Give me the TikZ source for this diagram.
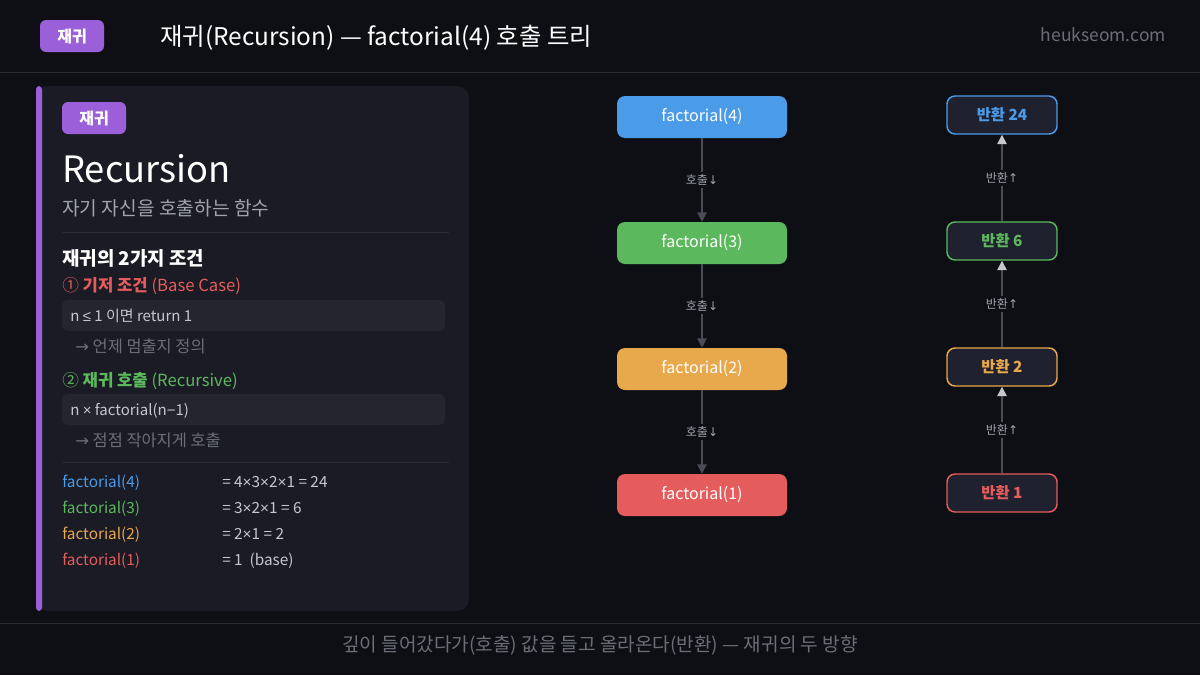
\documentclass[tikz,border=0pt]{standalone}
\usepackage{fontspec}
\setmainfont{Noto Sans CJK KR}
\newfontfamily\symfont{Liberation Sans}
\newfontfamily\arrowfont{DejaVu Sans}
\usetikzlibrary{arrows.meta}
\definecolor{BgDark}{HTML}{0E0F14}
\definecolor{RuleGray}{HTML}{2A2B33}
\definecolor{PanelBg}{HTML}{1A1B24}
\definecolor{CodeBg}{HTML}{24252F}
\definecolor{Badge}{HTML}{9B5FDA}
\definecolor{FBlue}{HTML}{4A9BE8}
\definecolor{FGreen}{HTML}{5CB85C}
\definecolor{FOrange}{HTML}{E8A84C}
\definecolor{FRed}{HTML}{E55C5C}
\definecolor{RetBg}{HTML}{20212F}
\definecolor{SubGray}{HTML}{A0A3AD}
\definecolor{DimGray}{HTML}{6B6E78}
\definecolor{CodeText}{HTML}{C5C7CF}
\definecolor{LinkGray}{HTML}{4A4C57}
\newcommand{\fpx}[1]{\fontsize{#1}{#1}\selectfont}
\newcommand{\sy}[1]{{\symfont #1}}
\newcommand{\ar}[1]{{\arrowfont #1}}
\tikzset{
  badge/.style={fill=Badge, rounded corners=4.5pt, text=white, font=\fpx{12}\bfseries,
    minimum width=48pt, minimum height=24pt, inner sep=0pt},
  txt/.style={anchor=base west, inner sep=0pt},
  callnode/.style={fill=#1, rounded corners=6pt, text=white, font=\fpx{12},
    minimum width=127.5pt, minimum height=31.5pt, inner sep=0pt},
  retnode/.style={fill=RetBg, draw=#1, line width=1.1pt, rounded corners=6pt, text=#1,
    font=\fpx{11.5}\bfseries, minimum width=82.5pt, minimum height=28.5pt, inner sep=0pt},
  linklabel/.style={fill=BgDark, text=SubGray, font=\fpx{9}, inner sep=2pt},
  callline/.style={draw=LinkGray, line width=1pt, -{Triangle[length=7pt,width=7pt]}},
  retline/.style={draw=LinkGray, line width=1pt, -{Triangle[length=7pt,width=7pt,color=CodeText]}}
}
\begin{document}
\begin{tikzpicture}[x=0.75pt,y=-0.75pt]
\fill[BgDark] (0,0) rectangle (1200,675);
\useasboundingbox (0,0) rectangle (1200,675);
% header
\draw[RuleGray, line width=0.75pt] (0,72) -- (1200,72);
\node[badge] (topbadge) at (72,36) {재귀};
\node[txt, text=white, font=\fpx{18.3}] (title) at (160,45) {재귀(Recursion) — factorial(4) 호출 트리};
\node[anchor=base east, inner sep=0pt, text=DimGray, font=\fpx{13.1}] (site) at (1166,41) {heukseom.com};
% footer
\draw[RuleGray, line width=0.75pt] (0,623) -- (1200,623);
\node[anchor=base, inner sep=0pt, text=DimGray, font=\fpx{14.3}] (foot) at (600,651)
  {깊이 들어갔다가(호출) 값을 들고 올라온다(반환) — 재귀의 두 방향};
%
% left panel
\fill[PanelBg, rounded corners=9pt] (36,86) rectangle (469,611);
\fill[Badge, rounded corners=2.5pt] (36,86) rectangle (42,611);
\node[badge] (panelbadge) at (94,118) {재귀};
\node[txt, text=white, font=\fpx{27.2}] (head) at (62,182) {Recursion};
\node[txt, text=SubGray, font=\fpx{14.4}] (sub) at (62,215) {자기 자신을 호출하는 함수};
\draw[RuleGray, line width=0.75pt] (62,232) -- (449,232);
\node[txt, text=white, font=\fpx{14.2}\bfseries] (cond) at (62,265) {재귀의 2가지 조건};
%
\node[txt, text=FRed, font=\fpx{12.5}] (base) at (62,291) {① \textbf{기저 조건} (Base Case)};
\fill[CodeBg, rounded corners=4pt] (62,300) rectangle (445,331);
\node[txt, text=CodeText, font=\fpx{11.25}] (basecode) at (70,321) {n \sy{≤} 1 이면 return 1};
\node[txt, text=DimGray, font=\fpx{12.3}] (basenote) at (75,352) {\ar{→} 언제 멈출지 정의};
%
\node[txt, text=FGreen, font=\fpx{12.5}] (rec) at (62,386) {② \textbf{재귀 호출} (Recursive)};
\fill[CodeBg, rounded corners=4pt] (62,394) rectangle (445,425);
\node[txt, text=CodeText, font=\fpx{11.25}] (reccode) at (70,415) {n \sy{×} factorial(n\sy{−}1)};
\node[txt, text=DimGray, font=\fpx{12.3}] (recnote) at (75,446) {\ar{→} 점점 작아지게 호출};
\draw[RuleGray, line width=0.75pt] (62,462) -- (449,462);
%
\node[txt, text=FBlue, font=\fpx{11.5}] (t4) at (62,487) {factorial(4)};
\node[txt, text=FGreen, font=\fpx{11.5}] (t3) at (62,513) {factorial(3)};
\node[txt, text=FOrange, font=\fpx{11.5}] (t2) at (62,539) {factorial(2)};
\node[txt, text=FRed, font=\fpx{11.5}] (t1) at (62,565) {factorial(1)};
\node[txt, text=CodeText, font=\fpx{11.5}] (v4) at (222,487) {= 4\sy{×}3\sy{×}2\sy{×}1 = 24};
\node[txt, text=CodeText, font=\fpx{11.5}] (v3) at (222,513) {= 3\sy{×}2\sy{×}1 = 6};
\node[txt, text=CodeText, font=\fpx{11.5}] (v2) at (222,539) {= 2\sy{×}1 = 2};
\node[txt, text=CodeText, font=\fpx{11.5}] (v1) at (222,565) {= 1 \ (base)};
%
% call column
\node[callnode=FBlue] (f4) at (702,117) {factorial(4)};
\node[callnode=FGreen] (f3) at (702,243) {factorial(3)};
\node[callnode=FOrange] (f2) at (702,369) {factorial(2)};
\node[callnode=FRed] (f1) at (702,495) {factorial(1)};
\draw[callline] (f4) -- node[linklabel] {호출\ar{↓}} (f3);
\draw[callline] (f3) -- node[linklabel] {호출\ar{↓}} (f2);
\draw[callline] (f2) -- node[linklabel] {호출\ar{↓}} (f1);
%
% return column
\node[retnode=FBlue] (r4) at (1002,115) {반환 24};
\node[retnode=FGreen] (r3) at (1002,241) {반환 6};
\node[retnode=FOrange] (r2) at (1002,367) {반환 2};
\node[retnode=FRed] (r1) at (1002,493) {반환 1};
\draw[retline] (r1) -- node[linklabel] {반환\ar{↑}} (r2);
\draw[retline] (r2) -- node[linklabel] {반환\ar{↑}} (r3);
\draw[retline] (r3) -- node[linklabel] {반환\ar{↑}} (r4);
\end{tikzpicture}
\end{document}
